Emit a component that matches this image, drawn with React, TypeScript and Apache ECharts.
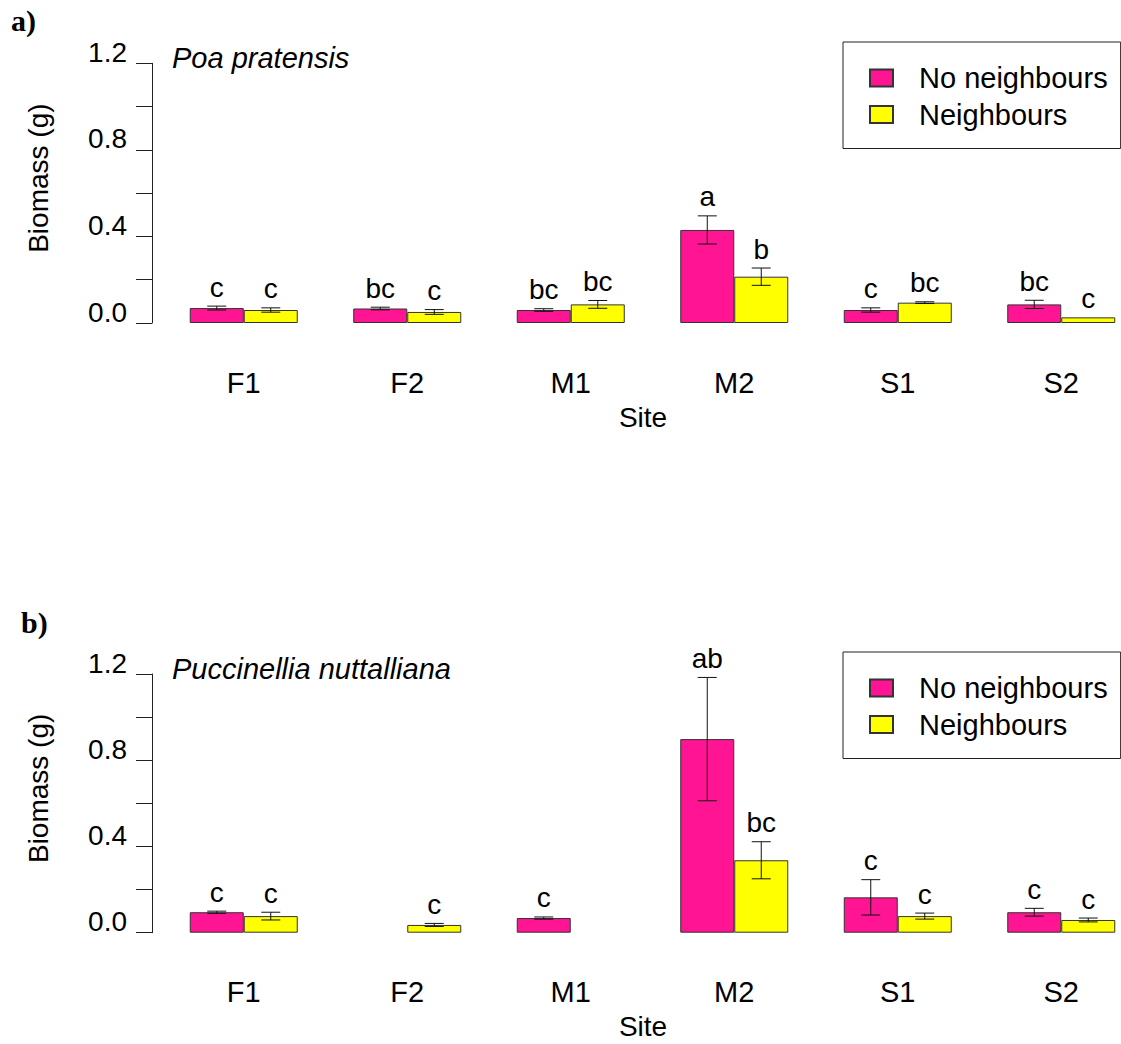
import React, { useEffect, useRef } from "react";
import * as echarts from "echarts";

const sites = ["F1", "F2", "M1", "M2", "S1", "S2"];
const seriesNames = ["No neighbours", "Neighbours"];
const yTickValues = [0, 0.2, 0.4, 0.6, 0.8, 1.0, 1.2];

// Panel a) Poa pratensis
const poaNoNeighbours = [0.069, 0.067, 0.06, 0.43, 0.06, 0.086];
const poaNoNeighboursErr = [0.009, 0.006, 0.006, 0.065, 0.01, 0.019];
const poaNeighbours = [0.06, 0.051, 0.086, 0.214, 0.094, 0.026];
const poaNeighboursErr = [0.01, 0.011, 0.018, 0.04, 0.004, 0];
const poaNoNeighboursLetters = ["c", "bc", "bc", "a", "c", "bc"];
const poaNeighboursLetters = ["c", "c", "bc", "b", "bc", "c"];

// Panel b) Puccinellia nuttalliana
const pucNoNeighbours = [0.095, null, 0.068, 0.898, 0.164, 0.095];
const pucNoNeighboursErr = [0.005, null, 0.005, 0.286, 0.082, 0.018];
const pucNeighbours = [0.077, 0.036, null, 0.336, 0.077, 0.059];
const pucNeighboursErr = [0.018, 0.007, null, 0.086, 0.014, 0.009];
const pucNoNeighboursLetters = ["c", null, "c", "ab", "c", "c"];
const pucNeighboursLetters = ["c", "c", null, "bc", "c", "c"];

const PINK = "#FF1493";
const YELLOW = "#FFFF00";
const FONT = "'Liberation Sans', Arial, Helvetica, sans-serif";
const SERIF = "'Liberation Serif', 'Times New Roman', serif";
const BAR_W = 54;
const CAP_W = 19;

function errSeries(
  name: string,
  gridIdx: number,
  means: (number | null)[],
  errs: (number | null)[],
  letters: (string | null)[],
  side: number
) {
  return {
    type: "custom",
    name,
    xAxisIndex: gridIdx,
    yAxisIndex: gridIdx,
    z: 5,
    silent: true,
    encode: { x: 0, y: 1 },
    data: means.map((m, i) => [i, m === null ? "-" : m, errs[i] === null ? 0 : errs[i]]),
    renderItem: (params: any, api: any) => {
      const i = api.value(0);
      const m = api.value(1);
      const e = api.value(2) || 0;
      if (m === null || isNaN(m)) return null;
      const c = api.coord([i, m]);
      const cx = c[0] + (side * BAR_W) / 2;
      const yTop = api.coord([i, m + e])[1];
      const yBot = api.coord([i, m - e])[1];
      const children: any[] = [];
      const ls = { stroke: "#111", lineWidth: 1 };
      if (e > 0) {
        children.push({ type: "line", shape: { x1: cx, y1: yTop, x2: cx, y2: yBot }, style: ls });
        children.push({ type: "line", shape: { x1: cx - CAP_W / 2, y1: yTop, x2: cx + CAP_W / 2, y2: yTop }, style: ls });
        children.push({ type: "line", shape: { x1: cx - CAP_W / 2, y1: yBot, x2: cx + CAP_W / 2, y2: yBot }, style: ls });
      }
      const letter = letters[i];
      if (letter) {
        children.push({
          type: "text",
          x: cx,
          y: yTop - 5,
          style: {
            text: letter,
            fill: "#000",
            fontSize: 28,
            fontFamily: FONT,
            align: "center",
            verticalAlign: "bottom",
          },
        });
      }
      return { type: "group", children };
    },
  };
}

function barSeries(name: string, gridIdx: number, values: (number | null)[], color: string) {
  return {
    type: "bar",
    name,
    xAxisIndex: gridIdx,
    yAxisIndex: gridIdx,
    barWidth: BAR_W,
    barGap: "0%",
    z: 2,
    itemStyle: { color, borderColor: "#333", borderWidth: 1 },
    data: values.map((v) => (v === null ? "-" : v)),
  };
}

function legendCfg(top: number, pad: number[]) {
  return {
    left: 843,
    top,
    orient: "vertical",
    data: seriesNames,
    icon: "rect",
    itemWidth: 23,
    itemHeight: 17,
    itemGap: 6.5,
    padding: pad,
    borderColor: "#222",
    borderWidth: 1,
    selectedMode: false,
    textStyle: {
      fontSize: 29,
      fontFamily: FONT,
      color: "#000",
      lineHeight: 30,
      padding: [0, 0, 0, 21],
    },
  };
}

function xAxisCfg(gridIdx: number) {
  return {
    type: "category",
    gridIndex: gridIdx,
    data: sites,
    name: "Site",
    nameLocation: "middle",
    nameGap: 80,
    nameTextStyle: { fontSize: 28, fontFamily: FONT, color: "#000", padding: [0, 19, 0, 0] },
    axisLine: { show: false },
    axisTick: { show: false },
    axisLabel: { fontSize: 29, fontFamily: FONT, color: "#000", margin: 45 },
    splitLine: { show: false },
  };
}

function yAxisCfg(gridIdx: number) {
  return {
    type: "value",
    gridIndex: gridIdx,
    min: yTickValues[0],
    max: yTickValues[yTickValues.length - 1],
    interval: 0.2,
    offset: 10,
    name: "Biomass (g)",
    nameLocation: "middle",
    nameGap: 100,
    nameRotate: 90,
    nameTextStyle: { fontSize: 28, fontFamily: FONT, color: "#000", padding: [0, 0, 0, 30] },
    axisLine: { show: true, lineStyle: { color: "#222", width: 1 } },
    axisTick: { show: true, length: 16, inside: false, lineStyle: { color: "#222", width: 1 } },
    axisLabel: {
      fontSize: 28,
      fontFamily: FONT,
      color: "#000",
      margin: 25,
      verticalAlign: "bottom",
      lineHeight: 22,
      formatter: (v: number) => (Math.round(v * 10) % 4 === 0 ? v.toFixed(1) : ""),
    },
    splitLine: { show: false },
  };
}

export default function App() {
  const ref = useRef<HTMLDivElement>(null);
  useEffect(() => {
    if (!ref.current) return;
    const chart = echarts.init(ref.current, undefined, { renderer: "svg" });
    const titleBase = { padding: 0 };
    chart.setOption({
      animation: false,
      backgroundColor: "#fff",
      title: [
        { ...titleBase, text: "a)", left: 11, top: 5, textStyle: { fontFamily: SERIF, fontWeight: "bold", fontSize: 30, color: "#000" } },
        { ...titleBase, text: "Poa pratensis", left: 172, top: 43, textStyle: { fontFamily: FONT, fontStyle: "italic", fontWeight: "normal", fontSize: 29, color: "#000" } },
        { ...titleBase, text: "b)", left: 21, top: 607, textStyle: { fontFamily: SERIF, fontWeight: "bold", fontSize: 30, color: "#000" } },
        { ...titleBase, text: "Puccinellia nuttalliana", left: 172, top: 654, textStyle: { fontFamily: FONT, fontStyle: "italic", fontWeight: "normal", fontSize: 29, color: "#000" } },
      ],
      legend: [legendCfg(42, [21, 13, 19, 26]), legendCfg(652, [21, 13, 19, 26])],
      grid: [
        { left: 162, top: 63.3, width: 981, height: 259.7 },
        { left: 162, top: 674, width: 981, height: 258.7 },
      ],
      xAxis: [xAxisCfg(0), xAxisCfg(1)],
      yAxis: [yAxisCfg(0), yAxisCfg(1)],
      series: [
        barSeries(seriesNames[0], 0, poaNoNeighbours, PINK),
        barSeries(seriesNames[1], 0, poaNeighbours, YELLOW),
        barSeries(seriesNames[0], 1, pucNoNeighbours, PINK),
        barSeries(seriesNames[1], 1, pucNeighbours, YELLOW),
        errSeries("err-a-1", 0, poaNoNeighbours, poaNoNeighboursErr, poaNoNeighboursLetters, -1),
        errSeries("err-a-2", 0, poaNeighbours, poaNeighboursErr, poaNeighboursLetters, 1),
        errSeries("err-b-1", 1, pucNoNeighbours, pucNoNeighboursErr, pucNoNeighboursLetters, -1),
        errSeries("err-b-2", 1, pucNeighbours, pucNeighboursErr, pucNeighboursLetters, 1),
      ],
    });
    return () => chart.dispose();
  }, []);
  return (
    <div
      ref={ref}
      style={{ position: "fixed", left: 0, top: 0, width: 1160, height: 1044, background: "#fff" }}
    />
  );
}
